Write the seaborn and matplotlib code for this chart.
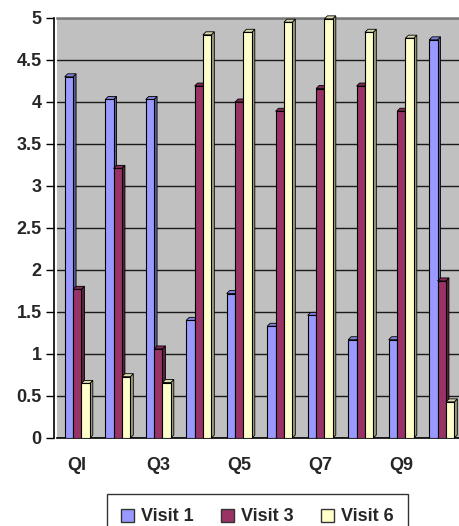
import numpy as np
import pandas as pd
import matplotlib
matplotlib.use("Agg")
import matplotlib.pyplot as plt
from matplotlib.patches import Polygon, Patch
from matplotlib.font_manager import FontProperties
import matplotlib.colors as mcolors
import seaborn as sns

# Mean scores per question for each visit
questions = ["QI", "Q2", "Q3", "Q4", "Q5", "Q6", "Q7", "Q8", "Q9", "Q10"]
visit_1 = [4.30, 4.03, 4.03, 1.40, 1.72, 1.33, 1.46, 1.17, 1.17, 4.74]
visit_3 = [1.77, 3.21, 1.06, 4.19, 4.00, 3.89, 4.16, 4.19, 3.89, 1.87]
visit_6 = [0.65, 0.73, 0.66, 4.80, 4.83, 4.95, 4.99, 4.83, 4.76, 0.43]
visits = ["Visit 1", "Visit 3", "Visit 6"]
colors = ["#9999FF", "#993366", "#FFFFCC"]
x_labels = ["QI", "", "Q3", "", "Q5", "", "Q7", "", "Q9", ""]
y_ticks = [0, 0.5, 1, 1.5, 2, 2.5, 3, 3.5, 4, 4.5, 5]

df = pd.DataFrame({
    "question": questions * 3,
    "score": visit_1 + visit_3 + visit_6,
    "visit": [v for v in visits for _ in questions],
})

sns.set_style("white")
plt.rcParams["font.family"] = "Liberation Sans"
plt.rcParams["font.weight"] = "bold"
bold = FontProperties(family="Liberation Sans", weight="bold", size=13)

W, H = 459, 526
fig = plt.figure(figsize=(W / 100, H / 100), dpi=100)
left_px, right_px, top_px, bottom_px = 57, 462, 18, 438
ax = fig.add_axes([left_px / W, (H - bottom_px) / H,
                   (right_px - left_px) / W, (bottom_px - top_px) / H])
ax.set_facecolor("#C0C0C0")

sns.barplot(data=df, x="question", y="score", hue="visit", order=questions,
            hue_order=visits, palette=colors, width=0.62, gap=0,
            saturation=1, edgecolor="black", linewidth=0.8,
            legend=False, ax=ax, zorder=3)

ax.set_xlim(-0.5, len(questions) - 0.5)
ax.set_ylim(0, 5)

# pseudo-3D depth for each column: side and top faces
n = len(questions)
px_x = n / (right_px - left_px)
px_y = 5 / (bottom_px - top_px)
dx, dy = 3 * px_x, 3 * px_y
for i, p in enumerate(list(ax.patches)):
    hue_idx = i // n
    x0, w, h = p.get_x(), p.get_width(), p.get_height()
    base = np.array(mcolors.to_rgb(colors[hue_idx]))
    z = 3 + hue_idx * 0.1
    p.set_zorder(z + 0.02)
    side = Polygon([(x0 + w, 0), (x0 + w + dx, dy), (x0 + w + dx, h + dy), (x0 + w, h)],
                   closed=True, facecolor=base * 0.62, edgecolor="black", linewidth=0.6,
                   zorder=z, clip_on=False)
    top = Polygon([(x0, h), (x0 + dx, h + dy), (x0 + w + dx, h + dy), (x0 + w, h)],
                  closed=True, facecolor=base * 0.85, edgecolor="black", linewidth=0.6,
                  zorder=z + 0.01, clip_on=False)
    ax.add_patch(side)
    ax.add_patch(top)

# gridlines
ax.yaxis.grid(True, color="#1a1a1a", linewidth=1)
ax.set_axisbelow(True)

ax.set_yticks(y_ticks)
ax.set_yticklabels([f"{t:g}" for t in y_ticks])

# category ticks at group boundaries, labels on every other question
ax.set_xticks(range(n))
ax.set_xticklabels(x_labels)
ax.set_xticks(np.arange(-0.5, n, 1), minor=True)
ax.tick_params(axis="x", which="major", length=0, pad=14, labelsize=13)
ax.tick_params(axis="x", which="minor", length=7, width=1, color="black", direction="out")
ax.tick_params(axis="y", length=6, width=1, color="black", direction="out", pad=3,
               left=True, labelsize=13)
ax.set_xlabel("")
ax.set_ylabel("")

for s in ["left", "bottom"]:
    ax.spines[s].set_color("black")
    ax.spines[s].set_linewidth(1.2)
ax.spines["left"].set_position(("outward", 2))
ax.spines["top"].set_color("#7a7a7a")
ax.spines["top"].set_linewidth(1.8)
ax.spines["right"].set_visible(False)

handles = [Patch(facecolor=c, edgecolor="#333333", linewidth=1, label=v)
           for c, v in zip(colors, visits)]
leg = fig.legend(handles=handles, loc="upper left", ncol=3,
                 bbox_to_anchor=(107 / W, (H - 494) / H),
                 frameon=True, fancybox=False, edgecolor="black", prop=bold,
                 handlelength=0.72, handleheight=0.72, handletextpad=0.35,
                 columnspacing=1.55, borderpad=0.8, borderaxespad=0)
leg.get_frame().set_linewidth(1)

# make sure every label uses the bold face
fig.canvas.draw()
for t in ax.get_xticklabels() + ax.get_yticklabels() + leg.get_texts():
    t.set_fontproperties(bold)

fig.savefig("out.png", dpi=100)
